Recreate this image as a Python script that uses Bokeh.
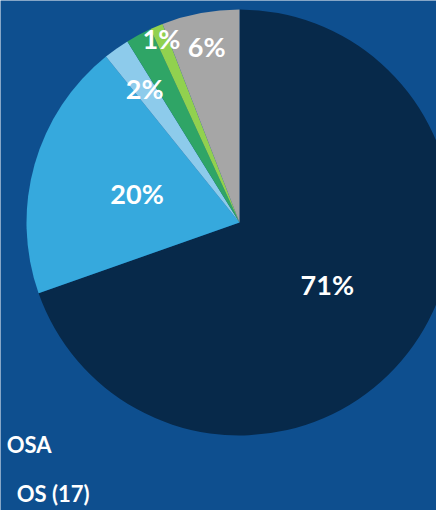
import math
from bokeh.plotting import figure
from bokeh.models import Range1d, ColumnDataSource
from bokeh.core.properties import value
from bokeh.embed import file_html
from bokeh.resources import INLINE

# Data (clockwise from 12 o'clock)
categories = ["A", "B", "C", "D", "E", "F"]
values = [71, 20, 2, 2, 1, 6]
labels = ["71%", "20%", "2%", "", "1%", "6%"]
legend_labels = ["OSA", "OS (17)"]

# Styles
colors = ["#07294A", "#36A9DD", "#8DCBEB", "#2FA566", "#91D14F", "#A6A6A6"]
label_r = [0.505, 0.5, 0.77, 0.0, 0.94, 0.84]
BG = "#0E4F8F"

W, H = 436, 510
CX, CY = 239, 222  # pie centre in page pixels
R = 213

p = figure(width=W, height=H, output_backend="svg", toolbar_location=None,
           x_range=Range1d(-CX, W - CX), y_range=Range1d(-(H - CY), CY),
           min_border=0, background_fill_color=BG, border_fill_color=BG,
           outline_line_color=None)
p.axis.visible = False
p.grid.visible = False

total = sum(values)
starts, ends, mids = [], [], []
acc = 0.0
for v in values:
    a0 = acc / total * 2 * math.pi
    acc += v
    a1 = acc / total * 2 * math.pi
    starts.append(math.pi / 2 - a0)
    ends.append(math.pi / 2 - a1)
    mids.append(math.pi / 2 - (a0 + a1) / 2)

src = ColumnDataSource(dict(cat=categories, start=starts, end=ends, color=colors))
p.wedge(x=0, y=0, radius=R, start_angle="start", end_angle="end",
        direction="clock", fill_color="color", line_color=None, source=src)

lx, ly, lt = [], [], []
for m, fr, t in zip(mids, label_r, labels):
    if not t:
        continue
    lx.append(R * fr * math.cos(m))
    ly.append(R * fr * math.sin(m))
    lt.append(t)
p.text(x=lx, y=ly, text=lt, text_color="white", text_font=value("Lato"),
       text_font_style="bold", text_font_size="27px",
       text_align="center", text_baseline="middle")

# partially visible legend entries (cut at the left edge)
p.text(x=[51 - CX, 89 - CX], y=[CY - 444, CY - 493], text=legend_labels,
       text_color="white", text_font=value("Lato"), text_font_style="bold",
       text_font_size="22px", text_align="right", text_baseline="middle")

html = file_html(p, INLINE)
html = html.replace("<body>", '<body style="margin:0;background:%s;overflow:hidden">' % BG, 1)
open("out.html", "w").write(html)
